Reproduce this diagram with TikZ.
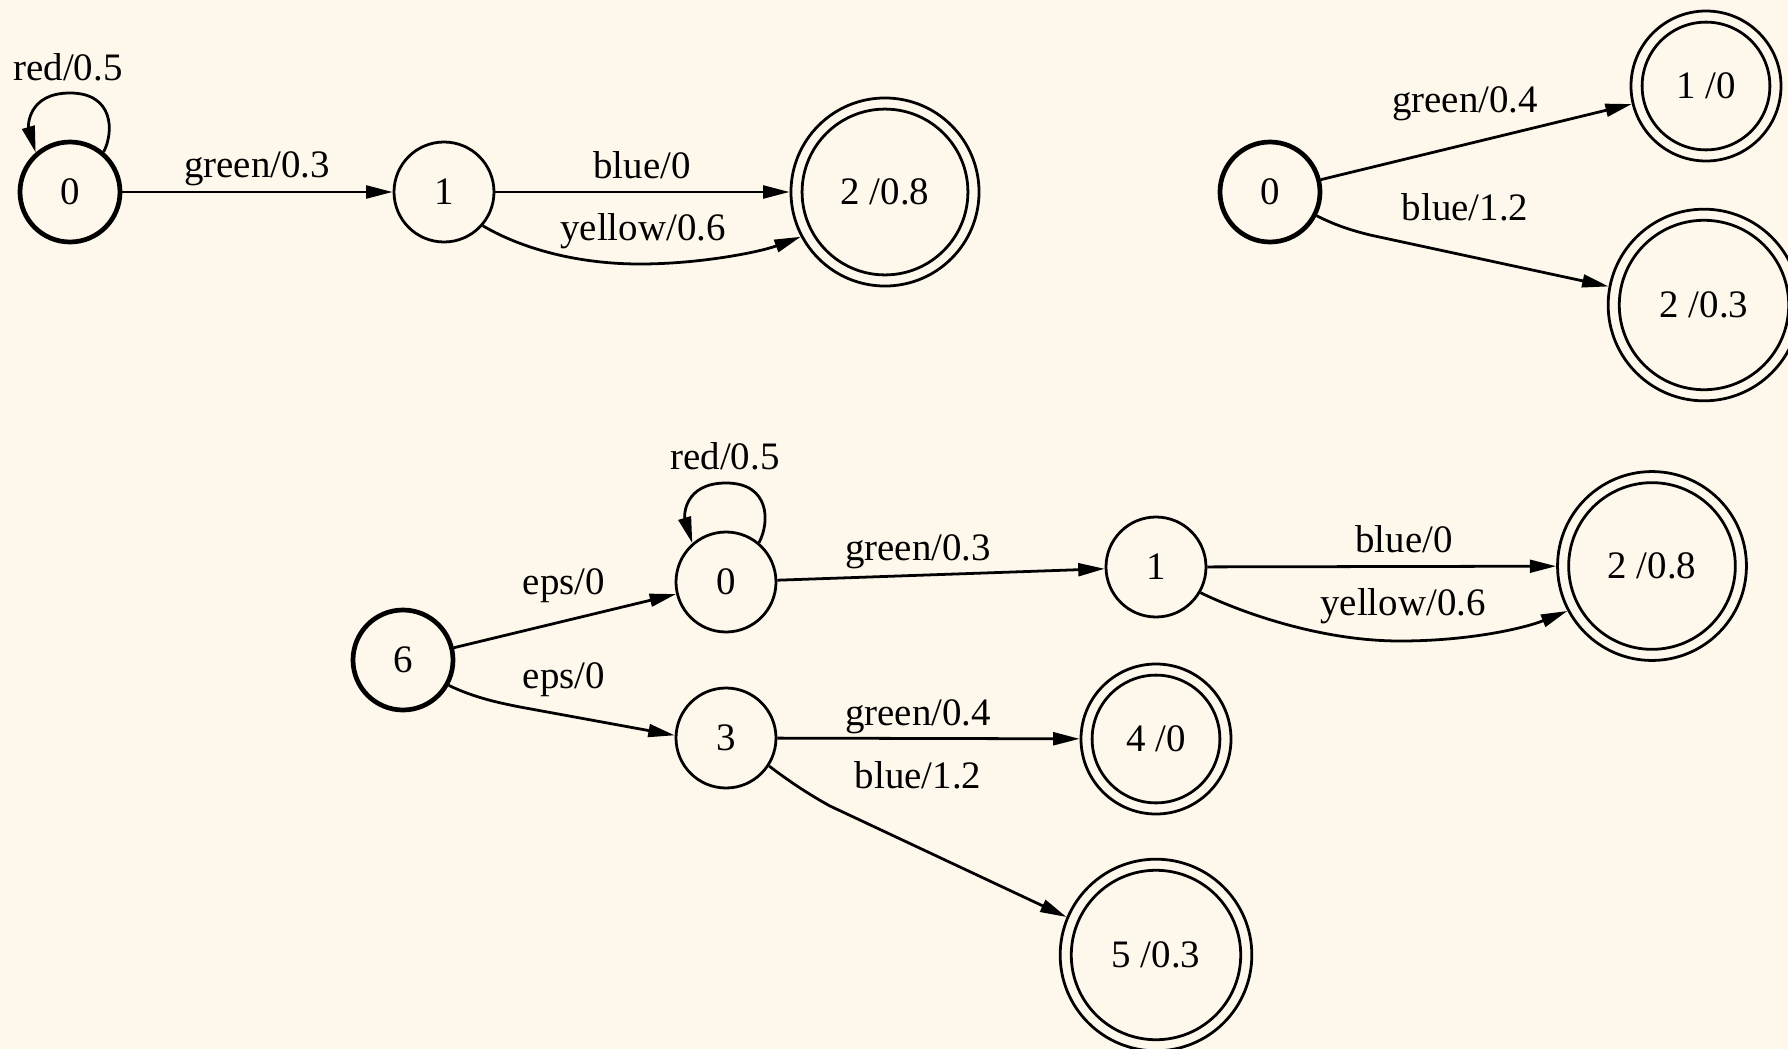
\documentclass[tikz,border=0pt]{standalone}
\usepackage{fontspec}
\setmainfont{Liberation Serif}
\usetikzlibrary{arrows.meta,calc}
\definecolor{paper}{RGB}{254,247,235}
\begin{document}
\begin{tikzpicture}[x=0.36pt,y=-0.36pt,
  txt/.style={font=\fontsize{14}{16}\selectfont},
  state/.style={circle,draw,line width=1pt,minimum size=36pt,inner sep=0pt,txt},
  startstate/.style={state,line width=1.7pt},
  final/.style={state,minimum size=#1,
    path picture={\draw[line width=1pt] (path picture bounding box.center) circle[radius={#1/2-4pt}];}},
  edge/.style={draw,line width=1pt,-{Triangle[length=9.5pt,width=4.6pt]}},
  lbl/.style={anchor=base,inner sep=0pt,txt}]

% canvas
\fill[paper] (0,0) rectangle (1788,1049);
\useasboundingbox (0,0) rectangle (1788,1049);
\clip (0,0) rectangle (1788,1049);

% ---- first automaton ----
\node[startstate] (A0) at (70,192) {0};
\node[state] (A1) at (444,192) {1};
\node[final=67.7pt] (A2) at (885,192) {2 /0.8};

\draw[edge] (A0.50) .. controls ($(A0)+(44,-60)$) and ($(A0)+(44,-99)$) .. ($(A0)+(0,-99)$)
  .. controls ($(A0)+(-42,-99)$) and ($(A0)+(-42,-66)$) .. (A0.131);
\node[lbl] (lA00) at (68,80) {red/0.5};

\draw[edge] (A0) -- (A1);
\node[lbl] (lA01) at (257,177) {green/0.3};

\draw[edge] (A1) -- (A2);
\node[lbl] (lA12a) at (642,178) {blue/0};

\draw[edge] (A1.-41) .. controls (515,245) and (570,264) .. (640,264)
  .. controls (700,264) and (760,252) .. (A2.208);
\node[lbl] (lA12b) at (643,240) {yellow/0.6};

% ---- second automaton ----
\node[startstate] (B0) at (1270,192) {0};
\node[final=54pt] (B1) at (1706,86) {1 /0};
\node[final=69pt] (B2) at (1704,305) {2 /0.3};

\draw[edge] (B0) -- (B1);
\node[lbl] (lB01) at (1465,112) {green/0.4};

\draw[edge] (B0.-27) .. controls (1335,225) and (1350,230) .. (1370,235) -- (B2.169);
\node[lbl] (lB02) at (1465,220) {blue/1.2};

% ---- union automaton ----
\node[startstate] (C6) at (403,660) {6};
\node[state] (C0) at (726,582) {0};
\node[state] (C1) at (1156,567) {1};
\node[final=68pt] (C2) at (1652,566) {2 /0.8};
\node[state] (C3) at (726,738) {3};
\node[final=54pt] (C4) at (1156,739) {4 /0};
\node[final=69pt] (C5) at (1156,955) {5 /0.3};

\draw[edge] (C6) -- (C0);
\node[lbl] (lC60) at (564,594) {eps/0};

\draw[edge] (C6.-29) .. controls (475,698) and (500,703) .. (520,707) -- (C3.177);
\node[lbl] (lC63) at (564,688) {eps/0};

\draw[edge] (C0.50) .. controls ($(C0)+(44,-60)$) and ($(C0)+(44,-99)$) .. ($(C0)+(0,-99)$)
  .. controls ($(C0)+(-42,-99)$) and ($(C0)+(-42,-66)$) .. (C0.131);
\node[lbl] (lC00) at (725,469) {red/0.5};

\draw[edge] (C0) -- (C1);
\node[lbl] (lC01) at (918,560) {green/0.3};

\draw[edge] (C1) -- (C2);
\node[lbl] (lC12a) at (1404,552) {blue/0};

\draw[edge] (C1.-30) .. controls (1240,612) and (1320,641) .. (1400,641)
  .. controls (1470,641) and (1525,628) .. (C2.208);
\node[lbl] (lC12b) at (1403,615) {yellow/0.6};

\draw[edge] (C3) -- (C4);
\node[lbl] (lC34) at (918,725) {green/0.4};

\draw[edge] (C3.-33) .. controls (790,782) and (810,795) .. (830,806) -- (C5.157);
\node[lbl] (lC35) at (918,788) {blue/1.2};

\end{tikzpicture}
\end{document}
